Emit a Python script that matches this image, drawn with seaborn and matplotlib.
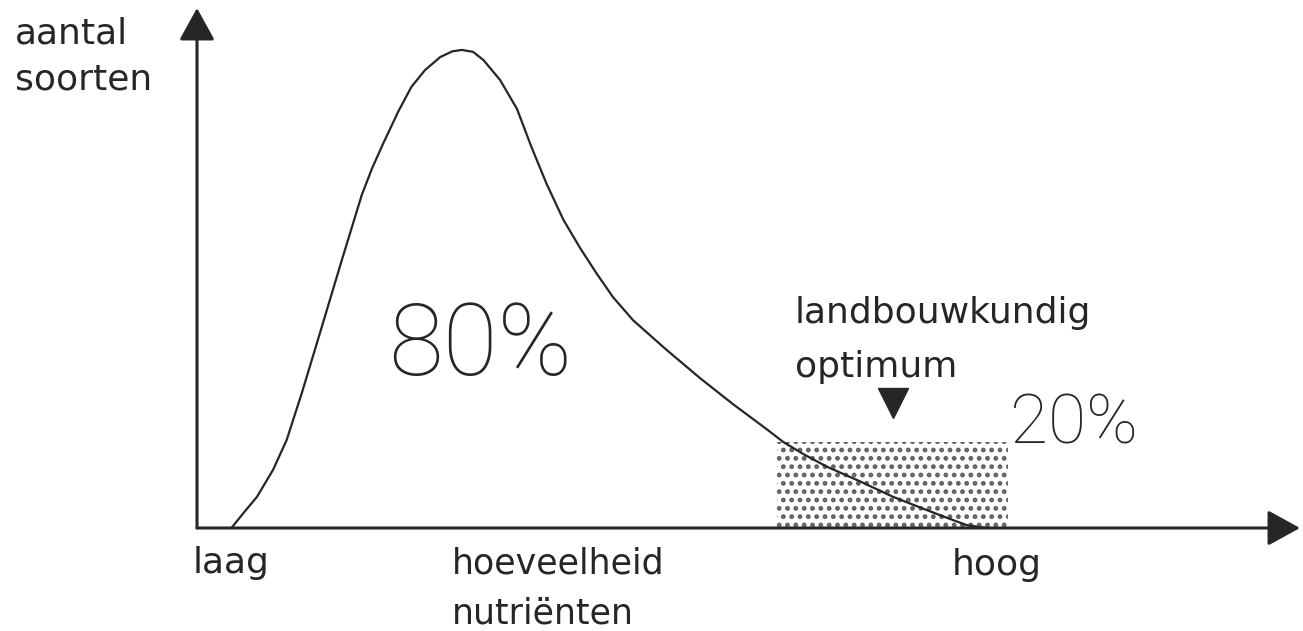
import numpy as np
import pandas as pd
import seaborn as sb
from matplotlib import pyplot as plt

'''
Species richness against nutrient level, with the agricultural optimum shaded.
Values were read off the drawing: nutrient level 0 = origin, species 100 = top of the curve.
'''

nutrients = [4.3, 5.8, 7.5, 9.5, 11.2, 13.1, 15.6, 18.1, 20.6, 21.9, 23.3, 25.2, 26.8, 28.5,
             30.4, 31.9, 33.1, 34.5, 35.8, 37.9, 40.0, 41.8, 43.7, 45.8, 47.9, 50.0, 52.0,
             54.5, 58.7, 62.9, 67.0, 71.2, 73.3, 75.8, 78.7, 82.9, 87.0, 90.2, 93.3, 96.2, 98.7]
species = [0, 3.1, 6.5, 12.1, 18.3, 28.1, 41.9, 55.8, 69.4, 75.0, 80.2, 86.9, 91.9, 95.4,
           98.1, 99.3, 99.6, 99.2, 97.5, 93.3, 87.3, 79.4, 71.7, 64.2, 58.3, 52.9, 48.1,
           43.3, 37.1, 31.2, 25.8, 20.6, 17.9, 15.4, 12.8, 9.7, 6.5, 4.4, 2.4, 0.6, 0]

# landbouwkundig optimum (shaded block)
optimum_range = [72.5, 101.4]
optimum_height = 17.9

axis_labels = ['aantal', 'soorten']
x_labels = ['laag', 'hoeveelheid', 'nutriënten', 'hoog']
optimum_labels = ['landbouwkundig', 'optimum']
shares = ['80%', '20%']

W, H = 1303, 631
INK = '#262626'

sb.set_theme(style='white')
plt.rcParams['font.family'] = ['DejaVu Sans']
plt.rcParams['hatch.linewidth'] = 2.2


def fpos(x, y):
    # pixel position in the figure -> figure fraction
    return x / W, 1 - y / H


fig = plt.figure(figsize=(W / 100, H / 100), dpi=100)
fig.patch.set_facecolor('white')
ax = fig.add_axes([197 / W, (H - 528) / H, (1300 - 197) / W, (528 - 8) / H])
ax.set_xlim(0, (1300 - 197) / 8)
ax.set_ylim(0, (528 - 8) / 4.8)
ax.axis('off')

#shaded optimum block
ax.fill_between(optimum_range, 0, optimum_height, facecolor='white', edgecolor='#5e5e5e',
                hatch='..', linewidth=0, zorder=1)

#curve
sb.lineplot(x=nutrients, y=species, ax=ax, color=INK, linewidth=1.6, sort=False, zorder=3,
            solid_joinstyle='round')

#marker above the optimum
ax.plot([np.mean(optimum_range)], [26], marker='v', markersize=21, color=INK, zorder=3)

#axes with arrow heads
arrow = dict(arrowstyle='-|>,head_length=1.0,head_width=0.55', mutation_scale=20,
             color=INK, linewidth=2.2, shrinkA=0, shrinkB=0)
ax.annotate('', xy=(1, 0), xytext=(0, 0), xycoords='axes fraction', arrowprops=arrow)
ax.annotate('', xy=(0, 1), xytext=(0, 0), xycoords='axes fraction', arrowprops=arrow)

#labels
lab = dict(fontsize=26, color=INK, va='baseline', ha='left')
fig.text(*fpos(15, 43), axis_labels[0], **lab)
fig.text(*fpos(15, 89), axis_labels[1], **lab)
fig.text(*fpos(193, 573), x_labels[0], **lab)
fig.text(*fpos(452, 573), x_labels[1], **dict(lab, fontsize=25))
fig.text(*fpos(452, 623), x_labels[2], **dict(lab, fontsize=25))
fig.text(*fpos(952, 575), x_labels[3], **lab)
fig.text(*fpos(795, 323), optimum_labels[0], **lab)
fig.text(*fpos(795, 377), optimum_labels[1], **lab)

hand = dict(color=INK, va='baseline', ha='left', family=['Roboto', 'DejaVu Sans'], fontweight='light')
fig.text(*fpos(388, 375), shares[0], fontsize=72, **hand)
fig.text(*fpos(1010, 443), shares[1], fontsize=50, **hand)

fig.savefig('out.png', dpi=100)
